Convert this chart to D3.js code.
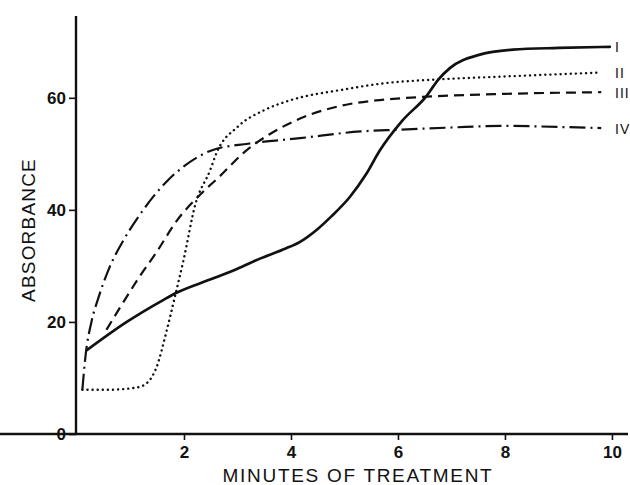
<!DOCTYPE html>
<html><head><meta charset="utf-8">
<script src="https://cdn.jsdelivr.net/npm/d3@7"></script>
<style>
html,body{margin:0;padding:0;background:#fff;}
svg{display:block;}
text{font-family:"Liberation Sans",Arial,Helvetica,sans-serif;fill:#111;}
</style></head>
<body><svg id="c" width="630" height="485"></svg>
<script>
// Data: [minutes, absorbance]
const curveI   = [[0.19,15],[0.93,20],[1.61,23.9],[1.86,25.2],[2.5,27.6],[3.0,29.5],[3.42,31.3],[3.9,33.1],[4.17,34.3],[4.5,36.6],[4.75,38.8],[5.1,42.3],[5.4,46.3],[5.66,50.6],[6.07,55.8],[6.54,60.4],[6.75,63.2],[6.97,65.3],[7.53,67.7],[8.15,68.6],[9.0,68.9],[9.96,69.1]];
const curveII  = [[0.1,7.9],[0.6,7.9],[1.12,8.3],[1.33,9.3],[1.49,12],[1.68,18.6],[1.83,24.5],[1.99,31],[2.21,40.9],[2.49,47.1],[2.61,50.2],[3.0,54.8],[3.5,57.8],[4.0,59.6],[5.0,61.5],[5.66,62.5],[6.79,63.3],[8.0,63.8],[9.0,64.2],[9.8,64.5]];
const curveIII = [[0.55,18.6],[0.8,22.5],[1.15,27.8],[1.49,32.5],[1.86,38],[2.3,42.7],[2.67,46],[3.14,50.4],[3.6,53.5],[4.17,56.3],[5.1,58.9],[5.66,59.6],[6.54,60.2],[8.0,60.7],[9.8,61]];
const curveIV  = [[0.1,7.9],[0.16,14],[0.27,20],[0.4,24.3],[0.62,30],[0.87,34.6],[1.15,38.8],[1.43,42.4],[1.7,45.3],[1.99,47.7],[2.54,50.7],[3.2,51.8],[4.17,52.8],[5.3,54],[6.0,54.3],[7.0,54.7],[8.0,55],[9.0,54.8],[9.8,54.6]];
const seriesLabels = ["I","II","III","IV"];
const xTicks = [2,4,6,8,10];
const yTicks = [0,20,40,60];
const xTitle = "MINUTES OF TREATMENT";
const yTitle = "ABSORBANCE";

const svg = d3.select("#c");
const x = d3.scaleLinear().domain([0,10.3]).range([77, 628]);
const y = d3.scaleLinear().domain([0,74.6]).range([434, 16]);

// axes
const gx = svg.append("g").attr("transform","translate(0,434)")
  .call(d3.axisBottom(x).tickValues(xTicks).tickSize(6).tickSizeOuter(0).tickPadding(6));
const gy = svg.append("g").attr("transform","translate(76,0)")
  .call(d3.axisLeft(y).tickValues(yTicks).tickSize(7).tickSizeOuter(0).tickPadding(3));
[gx,gy].forEach(g=>{
  g.attr("font-size",17).attr("font-family","'Liberation Sans',Arial,sans-serif");
  g.select(".domain").attr("stroke","#111").attr("stroke-width",2.4);
  g.selectAll(".tick line").attr("stroke","#111").attr("stroke-width",1.6);
  g.selectAll(".tick text").attr("font-size",17).attr("font-weight","bold").attr("fill","#111");
});
gy.select(".domain").attr("d", `M0,${y(0)+1}V${y.range()[1]}`);
gx.select(".domain").attr("d", `M-1,0H${x.range()[1]}`);

// titles
svg.append("text").attr("x",358).attr("y",482).attr("text-anchor","middle")
  .attr("font-size",19).attr("letter-spacing",1.7).text(xTitle);
svg.append("text").attr("transform","translate(35,230) rotate(-90)").attr("text-anchor","middle")
  .attr("font-size",19).attr("letter-spacing",1.2).text(yTitle);

const line = d3.line().x(d=>x(d[0])).y(d=>y(d[1])).curve(d3.curveMonotoneX);
const styles = [
  {data:curveI,   dash:null,        w:2.7, cap:"round"},
  {data:curveII,  dash:"0.1,5",     w:2.4, cap:"round"},
  {data:curveIII, dash:"10,6",      w:2.2, cap:"butt"},
  {data:curveIV,  dash:"16,5,2,5",  w:2.2, cap:"butt"}
];
styles.forEach((s,i)=>{
  svg.append("path").datum(s.data).attr("d",line)
    .attr("fill","none").attr("stroke","#111").attr("stroke-width",s.w)
    .attr("stroke-linecap",s.cap).attr("stroke-dasharray",s.dash);
  const last = s.data[s.data.length-1];
  svg.append("text").attr("x",615).attr("y",y(last[1])+5.5)
    .attr("font-size",14).attr("letter-spacing",1).text(seriesLabels[i]);
});
</script></body></html>
